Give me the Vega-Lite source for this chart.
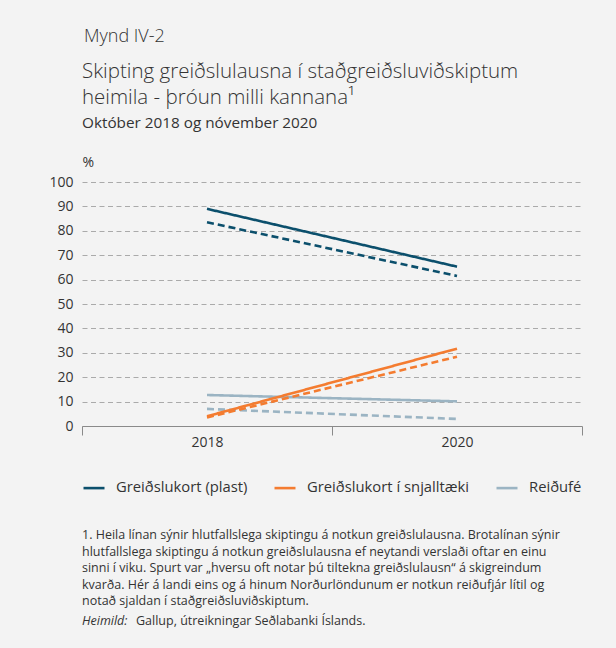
{
  "$schema": "https://vega.github.io/schema/vega-lite/v6.json",
  "background": "#f3f3f3",
  "padding": {"left": 48, "top": 28, "right": 33, "bottom": 20},
  "config": {
    "font": "Open Sans",
    "view": {"stroke": null},
    "title": {"color": "#333333", "fontWeight": "normal", "anchor": "start", "font": "Open Sans"},
    "axis": {"labelColor": "#333333", "labelFont": "Open Sans", "titleFont": "Open Sans", "titleFontWeight": "normal", "titleColor": "#333333"},
    "legend": {"labelFont": "Open Sans"},
    "concat": {"spacing": 34}
  },
  "resolve": {"legend": {"color": "independent"}},
  "title": {"text": "Mynd IV-2", "fontSize": 18, "dx": 35, "offset": 15.5, "fontWeight": 300},
  "vconcat": [
    {
      "width": 500,
      "height": 244,
      "title": {
        "text": ["Skipting greiðslulausna í staðgreiðsluviðskiptum", "heimila - þróun milli kannana¹"],
        "subtitle": "Október 2018 og nóvember 2020",
        "fontSize": 20.5,
        "lineHeight": 26,
        "fontWeight": 300,
        "subtitleFontSize": 15.3,
        "subtitleFontWeight": "normal",
        "subtitleColor": "#333333",
        "subtitleFont": "Open Sans",
        "subtitlePadding": 8,
        "frame": "group",
        "offset": 23.5
      },
      "data": {
        "values": [
          {"year": 2018, "type": "Greiðslukort (plast)", "line": "Heila lína", "value": 89.0},
          {"year": 2020, "type": "Greiðslukort (plast)", "line": "Heila lína", "value": 65.3},
          {"year": 2018, "type": "Greiðslukort (plast)", "line": "Brotalína", "value": 83.5},
          {"year": 2020, "type": "Greiðslukort (plast)", "line": "Brotalína", "value": 61.5},
          {"year": 2018, "type": "Reiðufé", "line": "Heila lína", "value": 12.7},
          {"year": 2020, "type": "Reiðufé", "line": "Heila lína", "value": 10.1},
          {"year": 2018, "type": "Reiðufé", "line": "Brotalína", "value": 7.0},
          {"year": 2020, "type": "Reiðufé", "line": "Brotalína", "value": 2.9},
          {"year": 2018, "type": "Greiðslukort í snjalltæki", "line": "Heila lína", "value": 4.0},
          {"year": 2020, "type": "Greiðslukort í snjalltæki", "line": "Heila lína", "value": 31.7},
          {"year": 2018, "type": "Greiðslukort í snjalltæki", "line": "Brotalína", "value": 3.5},
          {"year": 2020, "type": "Greiðslukort í snjalltæki", "line": "Brotalína", "value": 28.4}
        ]
      },
      "mark": {"type": "line", "strokeWidth": 2.6, "strokeCap": "butt"},
      "encoding": {
        "x": {
          "field": "year",
          "type": "quantitative",
          "scale": {"domain": [2017, 2021], "nice": false, "zero": false},
          "axis": {
            "values": [2017, 2018, 2019, 2020, 2021],
            "format": "d",
            "labelExpr": "datum.value == 2018 || datum.value == 2020 ? datum.label : ''",
            "grid": false,
            "domainColor": "#8a8a8a",
            "tickColor": "#8a8a8a",
            "tickSize": 9,
            "tickOpacity": {"condition": {"test": "datum.value == 2018 || datum.value == 2020", "value": 0}, "value": 1},
            "labelFontSize": 14,
            "labelPadding": 0,
            "labelFlush": false,
            "title": null
          }
        },
        "y": {
          "field": "value",
          "type": "quantitative",
          "scale": {"domain": [0, 100], "nice": false},
          "axis": {
            "values": [0, 10, 20, 30, 40, 50, 60, 70, 80, 90, 100],
            "title": "%",
            "titleAngle": 0,
            "titleAlign": "left",
            "titleX": 0,
            "titleY": -20,
            "titleBaseline": "middle",
            "titleFontSize": 14,
            "domain": false,
            "ticks": false,
            "labelPadding": 9,
            "labelFontSize": 14,
            "gridColor": "#aaaaaa",
            "gridDash": [5, 3.5],
            "gridWidth": 1
          }
        },
        "color": {
          "field": "type",
          "type": "nominal",
          "scale": {
            "domain": ["Greiðslukort (plast)", "Greiðslukort í snjalltæki", "Reiðufé"],
            "range": ["#0b4f6c", "#f47c30", "#9bb4c3"]
          },
          "legend": {
            "orient": "bottom",
            "direction": "horizontal",
            "title": null,
            "symbolType": "stroke",
            "symbolSize": 441,
            "symbolStrokeWidth": 2.6,
            "labelFontSize": 14.8,
            "labelColor": "#333333",
            "labelOffset": 10,
            "columnPadding": 21,
            "offset": 27,
            "labelLimit": 300
          }
        },
        "strokeDash": {
          "field": "line",
          "type": "nominal",
          "scale": {"domain": ["Heila lína", "Brotalína"], "range": [[1, 0], [7, 4]]},
          "legend": null
        }
      }
    },
    {
      "width": 500,
      "height": 86,
      "data": {
        "values": [
          {"kind": "note", "part": "text", "text": ["1. Heila línan sýnir hlutfallslega skiptingu á notkun greiðslulausna. Brotalínan sýnir", "hlutfallslega skiptingu á notkun greiðslulausna ef neytandi verslaði oftar en einu", "sinni í viku. Spurt var „hversu oft notar þú tiltekna greiðslulausn“ á skigreindum", "kvarða. Hér á landi eins og á hinum Norðurlöndunum er notkun reiðufjár lítil og", "notað sjaldan í staðgreiðsluviðskiptum."]},
          {"kind": "source", "part": "label", "text": "Heimild:"},
          {"kind": "source", "part": "body", "text": "Gallup, útreikningar Seðlabanki Íslands."}
        ]
      },
      "encoding": {
        "y": {"field": "kind", "type": "nominal", "scale": {"type": "point", "padding": 0, "domain": ["note", "source"]}, "axis": null},
        "x": {"value": 0},
        "text": {"field": "text"}
      },
      "layer": [
        {"transform": [{"filter": "datum.part == 'text'"}], "mark": {"type": "text", "align": "left", "baseline": "top", "fontSize": 12.5, "lineHeight": 16.5, "color": "#333333", "font": "Open Sans"}},
        {"transform": [{"filter": "datum.part == 'label'"}], "mark": {"type": "text", "align": "left", "baseline": "top", "fontSize": 12.5, "fontStyle": "italic", "color": "#333333", "font": "Open Sans"}},
        {"transform": [{"filter": "datum.part == 'body'"}], "mark": {"type": "text", "align": "left", "baseline": "top", "fontSize": 12.5, "dx": 54, "color": "#333333", "font": "Open Sans"}}
      ]
    }
  ]
}
